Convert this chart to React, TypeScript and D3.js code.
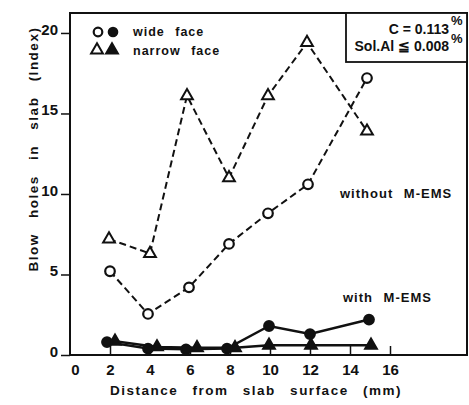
import React, { useRef, useEffect } from 'react';
import * as d3 from 'd3';

// Distance from slab surface (mm) and blow hole index
const wideWithoutX = [2, 3.9, 5.95, 7.95, 9.9, 11.9, 14.85];
const wideWithoutY = [5.2, 2.55, 4.2, 6.9, 8.8, 10.6, 17.2];
const narrowWithoutX = [1.95, 4, 5.85, 7.95, 9.9, 11.85, 14.85];
const narrowWithoutY = [7.2, 6.3, 16.1, 11.0, 16.1, 19.4, 13.9];
const wideWithX = [1.85, 3.9, 5.8, 7.85, 9.95, 12, 14.95];
const wideWithY = [0.8, 0.4, 0.35, 0.4, 1.8, 1.3, 2.2];
const narrowWithX = [2.25, 4.35, 6.35, 8.25, 9.95, 12.05, 15.05];
const narrowWithY = [0.85, 0.5, 0.45, 0.45, 0.6, 0.6, 0.6];

const xTicks = [0, 2, 4, 6, 8, 10, 12, 14, 16];
const yTicks = [0, 5, 10, 15, 20];

const FONT = '"Liberation Sans", Arial, sans-serif';
const INK = '#111';

const App = () => {
  const ref = useRef<SVGSVGElement>(null);

  useEffect(() => {
    if (!ref.current) return;
    const svg = d3.select(ref.current);
    svg.selectAll('*').remove();

    const left = 70, right = 467, top = 13, bottom = 355;
    const x = d3.scaleLinear().domain([0, 19.85]).range([left, right]);
    const y = d3.scaleLinear().domain([0, 21.24]).range([bottom, top]);

    // frame
    svg.append('rect')
      .attr('x', left).attr('y', top)
      .attr('width', right - left).attr('height', bottom - top)
      .attr('fill', 'none').attr('stroke', INK).attr('stroke-width', 2);

    // y axis
    const yAxis = svg.append('g')
      .attr('transform', `translate(${left},0)`)
      .call(d3.axisLeft(y).tickValues(yTicks).tickSize(9).tickPadding(3));
    yAxis.select('.domain').remove();
    yAxis.selectAll('.tick line').attr('stroke', INK).attr('stroke-width', 1.5);
    yAxis.selectAll('.tick text')
      .attr('font-family', FONT).attr('font-size', 15).attr('font-weight', 'bold')
      .attr('fill', INK).attr('dy', '0.1em');

    // x axis (ticks point inward)
    const xAxis = svg.append('g')
      .attr('transform', `translate(0,${bottom})`)
      .call(d3.axisBottom(x).tickValues(xTicks).tickSizeInner(-9).tickSizeOuter(0).tickPadding(9));
    xAxis.select('.domain').remove();
    xAxis.selectAll('.tick line').attr('stroke', INK).attr('stroke-width', 1.5)
      .filter((d: any) => d === 0).remove();
    xAxis.selectAll('.tick text')
      .attr('font-family', FONT).attr('font-size', 15).attr('font-weight', 'bold')
      .attr('fill', INK).attr('dx', (d: any) => (d === 0 ? 5 : 0));

    // axis titles
    svg.append('text')
      .attr('x', 256).attr('y', 395)
      .attr('text-anchor', 'middle')
      .attr('font-family', FONT).attr('font-size', 13.5).attr('font-weight', 'bold')
      .attr('letter-spacing', 1.5).attr('word-spacing', 9).attr('fill', INK)
      .text('Distance from slab surface (mm)');
    svg.append('text')
      .attr('transform', 'translate(38,149) rotate(-90)')
      .attr('text-anchor', 'middle')
      .attr('font-family', FONT).attr('font-size', 13.5).attr('font-weight', 'bold')
      .attr('letter-spacing', 1.5).attr('word-spacing', 10).attr('fill', INK)
      .text('Blow holes in slab (Index)');

    const line = d3.line<[number, number]>().x(d => x(d[0])).y(d => y(d[1]));
    const pts = (xs: number[], ys: number[]) => xs.map((v, i) => [v, ys[i]] as [number, number]);

    const tri = d3.symbol().type(d3.symbolTriangle).size(60);

    const series = [
      { d: pts(narrowWithoutX, narrowWithoutY), dash: '7,4', w: 2, mark: 'tri', fill: 'white' },
      { d: pts(wideWithoutX, wideWithoutY), dash: '7,4', w: 2, mark: 'circ', fill: 'white' },
      { d: pts(narrowWithX, narrowWithY), dash: null, w: 2.5, mark: 'tri', fill: INK },
      { d: pts(wideWithX, wideWithY), dash: null, w: 2.5, mark: 'circ', fill: INK },
    ];

    series.forEach(s => {
      svg.append('path')
        .datum(s.d)
        .attr('fill', 'none').attr('stroke', INK).attr('stroke-width', s.w)
        .attr('stroke-dasharray', s.dash)
        .attr('d', line);
      const g = svg.append('g');
      if (s.mark === 'circ') {
        g.selectAll('circle').data(s.d).enter().append('circle')
          .attr('cx', d => x(d[0])).attr('cy', d => y(d[1])).attr('r', 4.8)
          .attr('fill', s.fill).attr('stroke', INK).attr('stroke-width', 2.2);
      } else {
        g.selectAll('path').data(s.d).enter().append('path')
          .attr('d', tri)
          .attr('transform', d => `translate(${x(d[0])},${y(d[1])})`)
          .attr('fill', s.fill).attr('stroke', INK).attr('stroke-width', 2);
      }
    });

    // legend
    const lg = svg.append('g');
    lg.append('circle').attr('cx', 98).attr('cy', 32).attr('r', 4.3)
      .attr('fill', 'white').attr('stroke', INK).attr('stroke-width', 2.2);
    lg.append('circle').attr('cx', 113).attr('cy', 32).attr('r', 5.3).attr('fill', INK);
    lg.append('path').attr('d', tri).attr('transform', 'translate(97,50)')
      .attr('fill', 'white').attr('stroke', INK).attr('stroke-width', 2);
    lg.append('path').attr('d', tri).attr('transform', 'translate(112,50)')
      .attr('fill', INK).attr('stroke', INK).attr('stroke-width', 2);
    [['wide face', 36], ['narrow face', 55]].forEach(([t, yy]) => {
      lg.append('text').attr('x', 133).attr('y', yy as number)
        .attr('font-family', FONT).attr('font-size', 12.5).attr('font-weight', 'bold')
        .attr('letter-spacing', 1).attr('word-spacing', 6).attr('fill', INK)
        .text(t as string);
    });

    // composition box
    svg.append('rect')
      .attr('x', 346).attr('y', top).attr('width', right - 346).attr('height', 62 - top)
      .attr('fill', 'white').attr('stroke', INK).attr('stroke-width', 1.8);
    const boxText = (t: string, yy: number) =>
      svg.append('text').attr('x', 449).attr('y', yy).attr('text-anchor', 'end')
        .attr('font-family', FONT).attr('font-size', 14).attr('font-weight', 'bold')
        .attr('fill', INK).text(t);
    boxText('C = 0.113', 34);
    boxText('Sol.Al ≦ 0.008', 51);
    [25, 43].forEach(yy => {
      svg.append('text').attr('x', 451).attr('y', yy)
        .attr('font-family', FONT).attr('font-size', 13).attr('font-weight', 'bold')
        .attr('fill', INK).text('%');
    });

    // annotations
    const note = (t: string, xx: number, yy: number) =>
      svg.append('text').attr('x', xx).attr('y', yy)
        .attr('font-family', FONT).attr('font-size', 13).attr('font-weight', 'bold')
        .attr('letter-spacing', 1).attr('word-spacing', 6).attr('fill', INK).text(t);
    note('without M-EMS', 340, 198);
    note('with M-EMS', 343, 302);
  }, []);

  return (
    <div style={{ position: 'absolute', left: 0, top: 0 }}>
      <svg ref={ref} width={469} height={405} style={{ display: 'block', background: 'white' }} />
    </div>
  );
};

export default App;
